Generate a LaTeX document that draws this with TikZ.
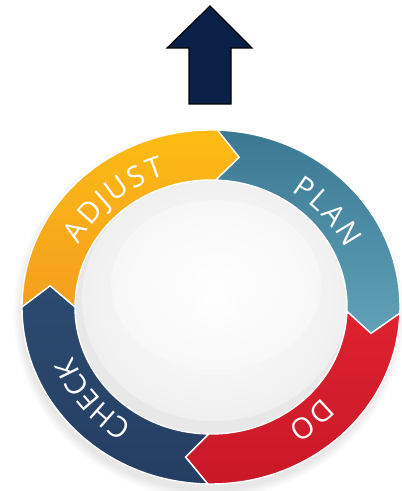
\documentclass[tikz,border=0pt]{standalone}
\usepackage{fontspec}
\setmainfont{Open Sans}
\newfontfamily\ringfont{Open Sans}
\usetikzlibrary{calc,decorations.text}

\definecolor{arrowNavy}{RGB}{10,32,70}
\definecolor{adjTop}{RGB}{253,188,20}
\definecolor{adjBot}{RGB}{244,158,30}
\definecolor{planTop}{RGB}{58,120,145}
\definecolor{planBot}{RGB}{96,162,184}
\definecolor{doTop}{RGB}{222,34,48}
\definecolor{doBot}{RGB}{200,24,40}
\definecolor{chkTop}{RGB}{44,74,112}
\definecolor{chkBot}{RGB}{36,62,98}

% one chevron segment of the cycle, running clockwise from #1 (tail) to #2 (head)
% outer radii 189/177, inner radii 136/127, chevron tip on 162.5/152, tip depth 8 degrees
\newcommand{\cycseg}[3]{%
  \path[#3, draw=white, line width=1.4pt, line join=miter]
    ($(C)+(#1:189pt and 177pt)$)
    arc[start angle=#1, end angle=#2, x radius=189pt, y radius=177pt]
    -- ($(C)+({#2-8}:162.5pt and 152pt)$)
    -- ($(C)+(#2:136pt and 127pt)$)
    arc[start angle=#2, end angle=#1, x radius=136pt, y radius=127pt]
    -- ($(C)+({#1-8}:162.5pt and 152pt)$)
    -- cycle;}

% a label spread along the ring's baseline from angle #2 to angle #3
\newcommand{\ringtext}[3]{%
  \path[ringlabel=#1] ($(C)+(#2:148pt and 138pt)$)
    arc[start angle=#2, end angle=#3, x radius=148pt, y radius=138pt];}

\tikzset{
  ringlabel/.style={decorate, decoration={text along path, text align={fit to path},
      text={|\color{white}\ringfont\fontsize{29}{29}\selectfont|#1}}},
  bigarrow/.style={fill=arrowNavy, draw=black, line width=1.1pt, line join=miter}
}

\begin{document}
\begin{tikzpicture}[x=1pt,y=1pt]
\useasboundingbox[fill=white] (0,0) rectangle (402,491);
\coordinate (C) at (211,184);

% upward arrow
\path[bigarrow] (210,485) -- (252,443) -- (231,443) -- (231,387)
  -- (189,387) -- (189,443) -- (167,443) -- cycle;

% soft shadow under the ring
\foreach \i in {1,...,8}{
  \fill[black, opacity=0.012] ($(C)+(-2,-7)$) ellipse[x radius={186+\i*1.2}, y radius={175+\i*1.2}];
}

% sphere in the middle
\fill[gray!18] (C) ellipse[x radius=137pt, y radius=128pt];
\shade[inner color=white, outer color=gray!12] ($(C)+(4,8)$) ellipse[x radius=133pt, y radius=122pt];
\shade[inner color=white, outer color=white!95!gray, opacity=0.8] ($(C)+(5,22)$) ellipse[x radius=105pt, y radius=85pt];

% the four segments
\cycseg{180}{88}{top color=adjTop, bottom color=adjBot}
\cycseg{88}{-2}{top color=planTop, bottom color=planBot}
\cycseg{-2}{-91}{top color=doTop, bottom color=doBot}
\cycseg{269}{180}{top color=chkTop, bottom color=chkBot}

% labels along the ring
\ringtext{ADJUST}{153}{108}
\ringtext{PLAN}{57}{25}
\ringtext{DO}{-41}{-59}
\ringtext{CHECK}{-122}{-158}
\end{tikzpicture}
\end{document}
